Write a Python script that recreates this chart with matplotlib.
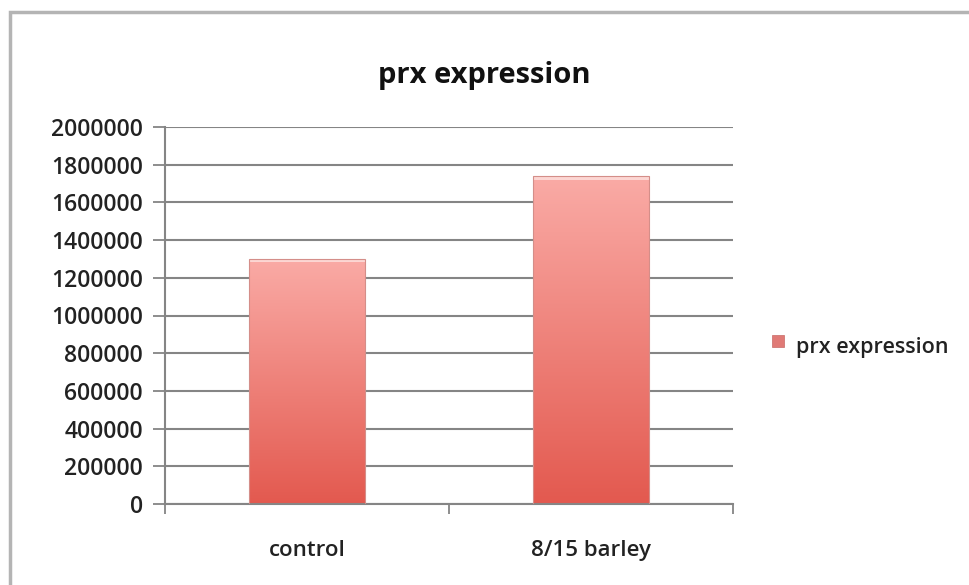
import numpy as np
import matplotlib
matplotlib.use('Agg')
from matplotlib import pyplot as plt
from matplotlib.patches import Rectangle

# data
categories = ['control', '8/15 barley']
values = [1302000, 1738000]
series_name = 'prx expression'
yticks = list(range(0, 2000001, 200000))

plt.rcParams['font.family'] = ['Open Sans', 'DejaVu Sans']
plt.rcParams['font.weight'] = 'semibold'

fig = plt.figure(figsize=(9.7, 5.85), dpi=100)
fig.patch.set_facecolor('white')

# outer chart border (left/top visible)
fig.patches.append(Rectangle((10 / 970, -0.05), 1.1, 1 - 12 / 585 + 0.05,
                             transform=fig.transFigure, fill=False,
                             edgecolor='#b4b4b4', linewidth=2.5))

ax = fig.add_axes([165 / 970, 1 - 504 / 585, (733 - 165) / 970, (504 - 127) / 585])

# gradient fill for the bars
grad = np.linspace(0, 1, 256).reshape(-1, 1)
top_col = np.array([0.98, 0.67, 0.65])
bot_col = np.array([0.89, 0.35, 0.31])
img = bot_col + (top_col - bot_col) * grad
img = img.reshape(256, 1, 3)

width = 0.405
bars = ax.bar(range(len(categories)), values, width=width, color='none',
              edgecolor='#d48e89', linewidth=0.8, zorder=3, label=series_name)
for b in bars:
    x0, w, h = b.get_x(), b.get_width(), b.get_height()
    im = ax.imshow(img, extent=[x0, x0 + w, 0, h], origin='lower',
                   aspect='auto', zorder=2.5)
    im.set_clip_path(b)
    # light highlight at the top edge
    ax.add_patch(Rectangle((x0, h - 20000), w, 20000, facecolor='#fcd6d3',
                           edgecolor='none', zorder=2.7))
ax.set_xlim(-0.5, len(categories) - 0.5)
ax.set_ylim(0, 2000000)

ax.set_yticks(yticks)
ax.set_yticklabels([str(t) for t in yticks], fontsize=16.5, color='#222222')
ax.grid(axis='y', color='#858585', linewidth=1.5, zorder=0)
ax.set_axisbelow(True)

ax.set_xticks([-0.5, 0.5, 1.5])
ax.set_xticklabels([])
ax.set_xticks(range(len(categories)), minor=True)
ax.set_xticklabels(categories, minor=True, fontsize=16, color='#222222')
ax.tick_params(axis='x', which='major', length=7, color='#858585', width=1.3,
               direction='out')
ax.tick_params(axis='x', which='minor', length=0, pad=26)
ax.tick_params(axis='y', length=9, color='#858585', width=1.3, pad=7)

for s in ['top', 'right']:
    ax.spines[s].set_visible(False)
ax.spines['left'].set_color('#858585')
ax.spines['bottom'].set_color('#858585')
ax.spines['left'].set_linewidth(1.5)
ax.spines['bottom'].set_linewidth(1.5)

fig.text(484 / 970, 1 - 75 / 585, 'prx expression', ha='center',
         va='center', fontsize=21, fontweight='bold', color='#111111')

# legend
fig.patches.append(Rectangle((772 / 970, 1 - 347 / 585), 12 / 970, 12 / 585,
                             transform=fig.transFigure, facecolor='#e07a76',
                             edgecolor='#c86a66', linewidth=0.5))
fig.text(796 / 970, 1 - 348 / 585, series_name, ha='left', va='center',
         fontsize=15.5, color='#222222')

fig.savefig('out.png', dpi=100)
